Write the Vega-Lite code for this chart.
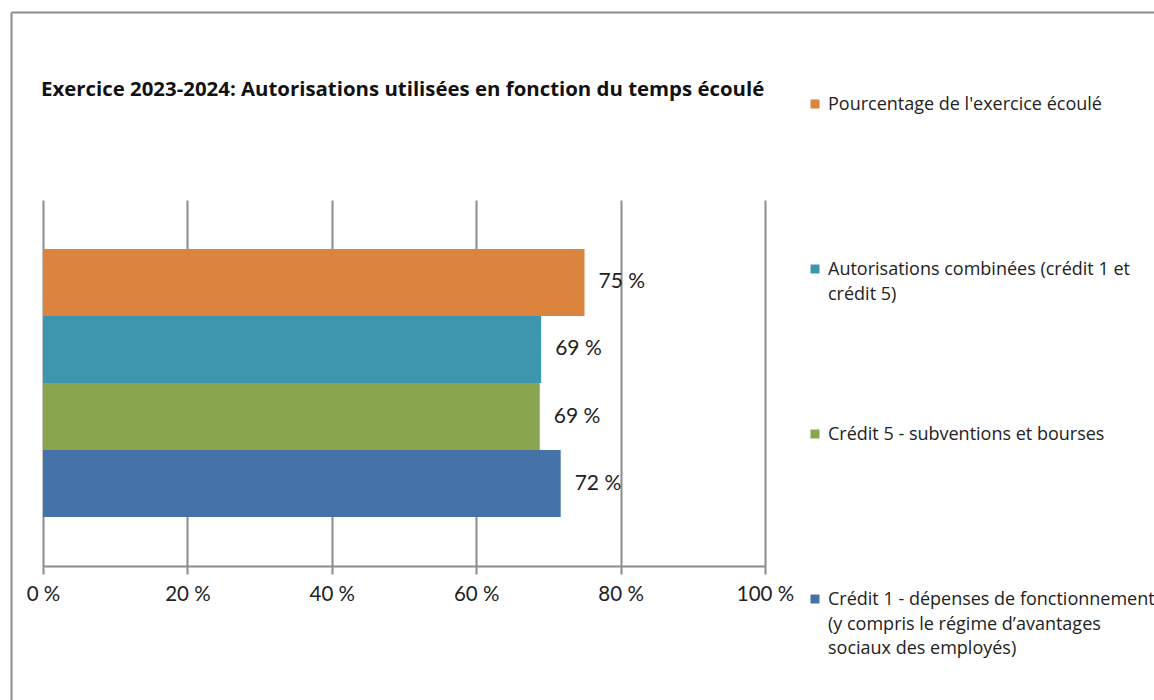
{
  "$schema": "https://vega.github.io/schema/vega-lite/v6.json",
  "width": 722,
  "height": 366,
  "autosize": "none",
  "padding": {"left": 43, "top": 200, "right": 389, "bottom": 134},
  "background": "white",
  "title": {
    "text": "Exercice 2023-2024: Autorisations utilisées en fonction du temps écoulé",
    "anchor": "start",
    "frame": "group",
    "offset": -88,
    "dx": -2,
    "font": "Open Sans",
    "fontSize": 20.4,
    "fontWeight": "bold",
    "color": "#111111"
  },
  "data": {
    "values": [
      {"serie": "Pourcentage de l'exercice écoulé", "valeur": 0.75},
      {"serie": "Autorisations combinées (crédit 1 et crédit 5)", "valeur": 0.69},
      {"serie": "Crédit 5 - subventions et bourses", "valeur": 0.688},
      {"serie": "Crédit 1 - dépenses de fonctionnement (y compris le régime d’avantages sociaux des employés)", "valeur": 0.717}
    ]
  },
  "layer": [
    {
      "layer": [
        {
          "mark": {"type": "bar"},
          "encoding": {
            "y": {
              "field": "serie",
              "type": "nominal",
              "sort": ["Pourcentage de l'exercice écoulé", "Autorisations combinées (crédit 1 et crédit 5)", "Crédit 5 - subventions et bourses", "Crédit 1 - dépenses de fonctionnement (y compris le régime d’avantages sociaux des employés)"],
              "scale": {"paddingInner": 0, "paddingOuter": 0.73},
              "axis": null
            },
            "x": {
              "field": "valeur",
              "type": "quantitative",
              "scale": {"domain": [0, 1], "nice": false},
              "axis": {
                "orient": "bottom",
                "values": [0, 0.2, 0.4, 0.6, 0.8, 1],
                "format": ".0%",
                "grid": true,
                "gridColor": "#8c8c8c",
                "gridWidth": 2,
                "domain": true,
                "domainColor": "#8c8c8c",
                "domainWidth": 2,
                "ticks": true,
                "tickColor": "#8c8c8c",
                "tickWidth": 2,
                "tickSize": 8,
                "labelFont": "Lato",
                "labelFontSize": 20.5,
                "labelColor": "#222222",
                "labelPadding": 10,
                "labelFlush": false,
                "labelOverlap": false,
                "labelBound": false,
                "title": null
              }
            },
            "color": {
              "field": "serie",
              "type": "nominal",
              "scale": {
                "domain": ["Pourcentage de l'exercice écoulé", "Autorisations combinées (crédit 1 et crédit 5)", "Crédit 5 - subventions et bourses", "Crédit 1 - dépenses de fonctionnement (y compris le régime d’avantages sociaux des employés)"],
                "range": ["#DB843D", "#3D96AE", "#89A54E", "#4572A7"]
              },
              "legend": {
                "orient": "none",
                "legendX": 763,
                "legendY": -171,
                "title": null,
                "symbolType": "square",
                "symbolSize": 81,
                "symbolStrokeWidth": 0,
                "symbolOpacity": 1,
                "labelFont": "Open Sans",
                "labelFontSize": 18,
                "labelColor": "#222222",
                "labelOffset": 4,
                "labelBaseline": "alphabetic",
                "labelLimit": 500,
                "clipHeight": 150,
                "rowPadding": 15,
                "labelExpr": "datum.label == 'Autorisations combinées (crédit 1 et crédit 5)' ? ['Autorisations combinées (crédit 1 et', 'crédit 5)'] : datum.label == 'Crédit 1 - dépenses de fonctionnement (y compris le régime d’avantages sociaux des employés)' ? ['Crédit 1 - dépenses de fonctionnement', '(y compris le régime d’avantages', 'sociaux des employés)'] : datum.label",
                "encode": {
                  "labels": {"update": {"dy": {"value": 6}, "lineHeight": {"value": 24.5}}}
                }
              }
            }
          }
        },
        {
          "mark": {"type": "text", "align": "left", "baseline": "middle", "dx": 14, "font": "Lato", "fontSize": 21, "color": "#222222"},
          "encoding": {
            "y": {
              "field": "serie",
              "type": "nominal",
              "sort": ["Pourcentage de l'exercice écoulé", "Autorisations combinées (crédit 1 et crédit 5)", "Crédit 5 - subventions et bourses", "Crédit 1 - dépenses de fonctionnement (y compris le régime d’avantages sociaux des employés)"]
            },
            "x": {"field": "valeur", "type": "quantitative"},
            "text": {"field": "valeur", "type": "quantitative", "format": ".0%"}
          }
        }
      ]
    },
    {
      "mark": {"type": "point", "opacity": 0, "size": 0},
      "encoding": {
        "x": {
          "datum": 0,
          "type": "quantitative",
          "scale": {"domain": [0, 1], "range": [-32, 1111], "nice": false, "zero": false},
          "axis": {"orient": "top", "offset": 188, "domain": true, "domainColor": "#8c8c8c", "domainWidth": 2, "ticks": false, "labels": false, "grid": false, "title": null}
        },
        "y": {
          "datum": 0,
          "type": "quantitative",
          "scale": {"domain": [0, 1], "range": [500, -188], "nice": false, "zero": false},
          "axis": {"orient": "left", "offset": 32, "domain": true, "domainColor": "#8c8c8c", "domainWidth": 2, "ticks": false, "labels": false, "grid": false, "title": null}
        }
      }
    }
  ],
  "resolve": {
    "scale": {"x": "independent", "y": "independent"},
    "axis": {"x": "independent", "y": "independent"}
  },
  "config": {
    "view": {"stroke": null},
    "locale": {
      "number": {"decimal": ",", "thousands": " ", "grouping": [3], "currency": ["", " $"], "percent": " %"}
    }
  }
}
